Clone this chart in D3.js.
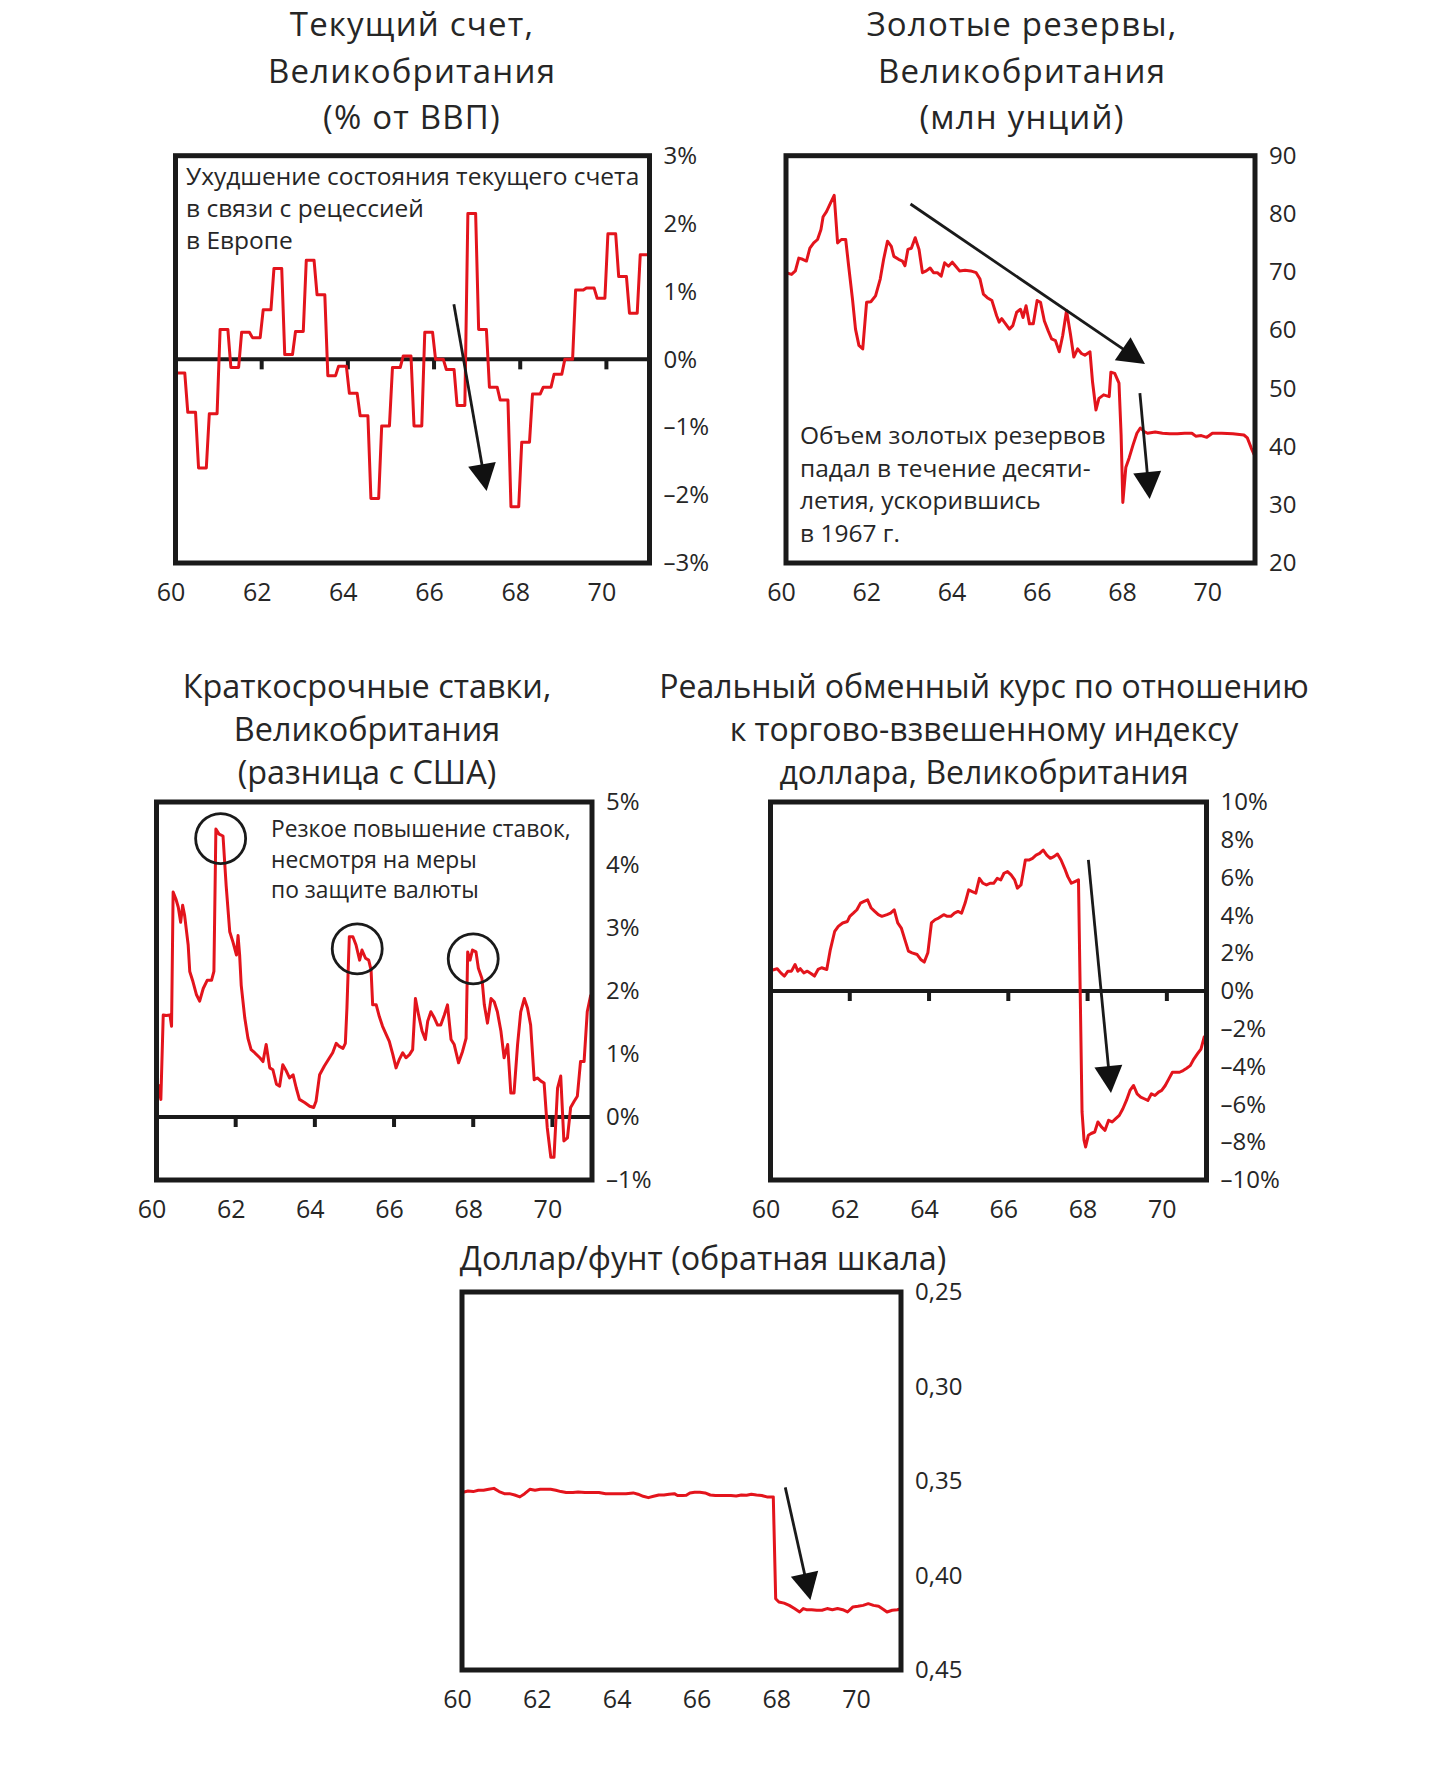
<!DOCTYPE html>
<html><head><meta charset="utf-8">
<script src="https://cdn.jsdelivr.net/npm/d3@7"></script>
<style>
body{margin:0;background:#fff}
svg{display:block}
text{font-family:"Open Sans",sans-serif;fill:#262626}
</style>
</head><body>
<svg id="c" width="1456" height="1767"></svg>
<script>
// ---------- DATA ----------
const xYears = [60, 62, 64, 66, 68, 70];
const zeroTickYears = [62, 64, 66, 68, 70];

// Current account, % of GDP, quarterly from 1960Q1
const currentAccountQ = [
  -0.2, -0.78, -1.6, -0.8,
  0.44, -0.12, 0.4, 0.32,
  0.73, 1.34, 0.07, 0.41,
  1.46, 0.95, -0.24, -0.1,
  -0.5, -0.83, -2.05, -0.98,
  -0.12, 0.05, -0.98, 0.4,
  0.0, -0.15, -0.68, 2.15,
  0.44, -0.41, -0.6, -2.17,
  -1.22, -0.51, -0.41, -0.22,
  0.0, 1.02, 1.05, 0.9,
  1.85, 1.22, 0.68, 1.54
];
const caTicks = [3, 2, 1, 0, -1, -2, -3];

// Gold reserves, mn oz: [year, value]
const goldSeries = [
  [60.00,69.9],[60.13,69.6],[60.22,70.2],[60.30,72.4],[60.39,72.2],[60.48,71.9],[60.56,74.1],[60.65,75.0],
  [60.74,75.6],[60.82,77.3],[60.87,79.5],[60.95,80.4],[61.04,81.8],[61.13,83.2],[61.21,75.0],[61.30,75.6],
  [61.40,75.6],[61.47,71.0],[61.56,65.3],[61.63,60.2],[61.71,57.4],[61.80,56.8],[61.89,64.8],[61.99,64.9],
  [62.10,65.9],[62.21,68.8],[62.29,72.2],[62.38,75.3],[62.47,74.4],[62.53,72.7],[62.64,72.2],[62.73,71.9],
  [62.79,71.1],[62.86,73.9],[62.94,74.1],[63.03,75.9],[63.12,73.9],[63.20,69.9],[63.29,70.2],[63.38,70.7],
  [63.46,69.9],[63.55,69.9],[63.64,69.3],[63.72,71.6],[63.81,71.0],[63.90,71.7],[63.98,71.0],[64.07,70.2],
  [64.20,70.3],[64.33,70.2],[64.46,69.9],[64.55,68.8],[64.63,66.2],[64.72,65.6],[64.83,65.1],[64.94,62.5],
  [65.00,61.4],[65.06,62.0],[65.15,61.1],[65.24,60.2],[65.32,60.8],[65.41,63.1],[65.50,63.6],[65.56,62.2],
  [65.63,64.2],[65.71,61.1],[65.80,61.1],[65.89,65.1],[65.97,64.8],[66.06,61.6],[66.15,59.9],[66.23,58.5],
  [66.32,58.2],[66.41,56.3],[66.49,59.1],[66.58,63.4],[66.67,59.4],[66.75,55.4],[66.84,56.8],[66.93,56.0],
  [67.01,55.7],[67.13,56.3],[67.19,51.1],[67.27,46.3],[67.34,48.3],[67.45,48.9],[67.58,48.6],[67.62,52.8],
  [67.71,52.6],[67.81,50.9],[67.86,42.0],[67.90,30.4],[67.97,36.4],[68.05,38.1],[68.14,40.3],[68.23,42.3],
  [68.31,43.2],[68.40,42.6],[68.48,42.3],[68.66,42.5],[68.83,42.3],[69.00,42.2],[69.18,42.2],[69.35,42.3],
  [69.52,42.3],[69.61,41.8],[69.74,41.9],[69.87,41.6],[70.00,42.3],[70.22,42.3],[70.48,42.2],[70.74,42.0],
  [70.82,41.5],[70.91,39.8],[70.98,38.6]
];
const goldTicks = [90, 80, 70, 60, 50, 40, 30, 20];

// Short-term rate differential vs US, %: [year, value]
const rateSeries = [
  [60.04,0.52],[60.11,0.28],[60.17,1.62],[60.25,1.61],[60.34,1.62],[60.38,1.44],[60.42,3.57],[60.49,3.46],
  [60.55,3.33],[60.61,3.09],[60.66,3.36],[60.71,3.20],[60.80,2.73],[60.84,2.31],[60.92,2.15],[61.01,1.94],
  [61.09,1.84],[61.18,2.04],[61.28,2.17],[61.39,2.17],[61.45,2.31],[61.50,4.57],[61.58,4.49],[61.68,4.46],
  [61.76,3.67],[61.85,2.94],[61.93,2.78],[62.02,2.57],[62.06,2.88],[62.10,2.57],[62.14,2.09],[62.23,1.57],
  [62.31,1.25],[62.39,1.07],[62.48,1.02],[62.61,0.94],[62.69,0.88],[62.77,1.15],[62.86,0.78],[62.94,0.75],
  [63.03,0.52],[63.11,0.49],[63.19,0.83],[63.28,0.73],[63.36,0.62],[63.45,0.67],[63.53,0.46],[63.61,0.28],
  [63.74,0.23],[63.87,0.17],[63.97,0.15],[64.03,0.25],[64.12,0.67],[64.24,0.81],[64.37,0.94],[64.45,1.02],
  [64.54,1.17],[64.62,1.12],[64.71,1.09],[64.77,1.17],[64.81,1.73],[64.87,2.86],[64.96,2.86],[65.04,2.73],
  [65.13,2.49],[65.19,2.65],[65.28,2.52],[65.36,2.49],[65.42,2.33],[65.46,1.78],[65.55,1.78],[65.63,1.59],
  [65.71,1.44],[65.80,1.31],[65.88,1.20],[65.97,0.99],[66.05,0.78],[66.13,0.91],[66.22,1.02],[66.30,0.94],
  [66.39,0.99],[66.47,1.07],[66.54,1.88],[66.62,1.62],[66.71,1.36],[66.79,1.23],[66.85,1.52],[66.93,1.67],
  [67.02,1.57],[67.10,1.46],[67.18,1.46],[67.27,1.62],[67.35,1.78],[67.44,1.23],[67.52,1.15],[67.63,0.86],
  [67.73,1.04],[67.82,1.25],[67.86,2.62],[67.92,2.49],[67.98,2.65],[68.07,2.62],[68.13,2.36],[68.22,2.20],
  [68.28,1.78],[68.36,1.49],[68.45,1.88],[68.53,1.83],[68.61,1.67],[68.70,1.36],[68.78,0.94],[68.87,1.15],
  [68.95,0.38],[69.03,0.38],[69.12,1.15],[69.20,1.67],[69.29,1.88],[69.37,1.73],[69.45,1.46],[69.54,0.59],
  [69.62,0.62],[69.71,0.57],[69.79,0.54],[69.87,-0.17],[69.96,-0.64],[70.04,-0.64],[70.13,0.46],[70.21,0.65],
  [70.29,-0.38],[70.38,-0.33],[70.46,0.15],[70.55,0.25],[70.63,0.33],[70.71,0.88],[70.80,0.88],[70.88,1.67],
  [70.97,1.94]
];
const rateTicks = [5, 4, 3, 2, 1, 0, -1];
const rateCircles = [[61.62, 4.42], [65.07, 2.67], [68.0, 2.51]];

// Real exchange rate vs trade-weighted dollar index, %: [year, value]
const reerSeries = [
  [60.03,1.1],[60.17,1.18],[60.26,0.96],[60.35,0.79],[60.44,1.05],[60.53,1.05],[60.62,1.4],[60.69,1.05],
  [60.75,1.18],[60.84,0.96],[60.93,1.05],[61.02,0.93],[61.11,0.79],[61.20,1.14],[61.29,1.23],[61.42,1.14],
  [61.51,2.19],[61.62,3.16],[61.71,3.42],[61.82,3.6],[61.94,3.68],[62.00,3.95],[62.09,4.12],[62.18,4.3],
  [62.27,4.65],[62.36,4.74],[62.45,4.82],[62.54,4.39],[62.63,4.21],[62.72,4.04],[62.81,3.95],[62.94,4.04],
  [63.03,4.12],[63.12,4.3],[63.21,3.6],[63.30,3.33],[63.39,2.72],[63.48,2.11],[63.57,2.02],[63.70,1.93],
  [63.79,1.67],[63.88,1.53],[63.97,2.02],[64.06,3.6],[64.15,3.77],[64.24,3.86],[64.37,4.04],[64.46,3.95],
  [64.55,3.95],[64.64,4.12],[64.73,4.21],[64.82,4.12],[64.91,4.65],[65.00,5.35],[65.09,5.26],[65.18,5.18],
  [65.27,5.96],[65.36,5.7],[65.45,5.61],[65.54,5.7],[65.63,5.7],[65.72,5.96],[65.81,5.88],[65.89,6.23],
  [65.98,6.32],[66.07,6.14],[66.16,5.88],[66.23,5.44],[66.32,5.61],[66.43,6.93],[66.52,6.93],[66.61,7.02],
  [66.70,7.19],[66.79,7.28],[66.88,7.46],[66.97,7.19],[67.06,7.02],[67.15,7.11],[67.24,7.25],[67.33,6.93],
  [67.42,6.49],[67.50,6.05],[67.59,5.7],[67.68,5.79],[67.77,5.88],[67.86,-6.4],[67.91,-7.89],[67.95,-8.25],
  [68.02,-7.63],[68.09,-7.54],[68.18,-7.46],[68.26,-6.93],[68.35,-7.19],[68.44,-7.37],[68.53,-6.84],[68.62,-6.93],
  [68.71,-6.75],[68.80,-6.58],[68.89,-6.23],[68.98,-5.79],[69.07,-5.26],[69.16,-5.0],[69.25,-5.44],[69.34,-5.61],
  [69.43,-5.7],[69.52,-5.79],[69.61,-5.44],[69.70,-5.53],[69.79,-5.35],[69.87,-5.26],[69.96,-5.0],[70.05,-4.65],
  [70.14,-4.3],[70.23,-4.3],[70.32,-4.3],[70.41,-4.21],[70.50,-4.09],[70.59,-3.95],[70.68,-3.6],[70.77,-3.33],
  [70.86,-3.07],[70.95,-2.37]
];
const reerTicks = [10, 8, 6, 4, 2, 0, -2, -4, -6, -8, -10];

// Dollar/pound (pounds per dollar), inverted scale: [year, value]
const fxSeries = [
  [60.00,0.3561],[60.15,0.3553],[60.28,0.3556],[60.41,0.3549],[60.54,0.3549],[60.67,0.3544],[60.80,0.3539],[60.93,0.3556],
  [61.06,0.3567],[61.19,0.3567],[61.32,0.3574],[61.45,0.3584],[61.57,0.3567],[61.70,0.3544],[61.83,0.3549],[61.96,0.3544],
  [62.09,0.3544],[62.22,0.3544],[62.35,0.3549],[62.48,0.3556],[62.61,0.3561],[62.78,0.3561],[62.91,0.3558],[63.08,0.3561],
  [63.25,0.3561],[63.43,0.3561],[63.60,0.3567],[63.77,0.3567],[63.94,0.3567],[64.11,0.3567],[64.29,0.3563],[64.41,0.3570],
  [64.54,0.3581],[64.67,0.3588],[64.80,0.3581],[64.93,0.3574],[65.06,0.3574],[65.19,0.3570],[65.32,0.3567],[65.40,0.3577],
  [65.53,0.3577],[65.62,0.3575],[65.71,0.3563],[65.83,0.3560],[65.96,0.3560],[66.09,0.3563],[66.22,0.3574],[66.35,0.3577],
  [66.48,0.3577],[66.61,0.3577],[66.74,0.3577],[66.87,0.3579],[67.00,0.3574],[67.13,0.3575],[67.25,0.3570],[67.38,0.3574],
  [67.51,0.3577],[67.64,0.3584],[67.80,0.3584],[67.86,0.4123],[67.94,0.4140],[68.07,0.4146],[68.20,0.4158],[68.33,0.4175],
  [68.46,0.4193],[68.55,0.4175],[68.63,0.4181],[68.76,0.4181],[68.89,0.4184],[69.02,0.4184],[69.15,0.4175],[69.28,0.4181],
  [69.41,0.4175],[69.54,0.4181],[69.66,0.4193],[69.79,0.4167],[69.92,0.4163],[70.05,0.4158],[70.18,0.4149],[70.31,0.4158],
  [70.44,0.4163],[70.57,0.4181],[70.65,0.4193],[70.78,0.4184],[70.91,0.4181],[71.00,0.4175]
];
const fxTicks = [0.25, 0.30, 0.35, 0.40, 0.45];

// ---------- DRAWING ----------
const RED = "#e3141c";
const INK = "#1a1a1a";
const svg = d3.select("#c");
const pctFmt = d => (d < 0 ? "–" + Math.abs(d) : d) + "%";

function panel(cfg) {
  const g = svg.append("g");
  const x = d3.scaleLinear().domain([60, 71]).range([cfg.x0, cfg.x1]);
  const y = d3.scaleLinear().domain(cfg.yDomain).range([cfg.y1, cfg.y0]);
  const id = "clip" + cfg.id;
  svg.append("clipPath").attr("id", id).append("rect")
    .attr("x", cfg.x0).attr("y", cfg.y0).attr("width", cfg.x1 - cfg.x0).attr("height", cfg.y1 - cfg.y0);

  // title
  g.append("text").attr("text-anchor", "middle").style("font-size", cfg.titleSize + "px")
    .style("letter-spacing", (cfg.titleSpacing || 0) + "px")
    .selectAll("tspan").data(cfg.title).join("tspan")
    .attr("x", cfg.titleX).attr("y", (d, i) => cfg.titleY + i * cfg.titleLead).text(d => d);

  // zero line + ticks
  if (cfg.zero) {
    g.append("line").attr("x1", cfg.x0).attr("x2", cfg.x1).attr("y1", y(0)).attr("y2", y(0))
      .attr("stroke", INK).attr("stroke-width", 4);
    g.selectAll(".zt").data(zeroTickYears).join("line")
      .attr("x1", d => x(d)).attr("x2", d => x(d)).attr("y1", y(0)).attr("y2", y(0) + 10)
      .attr("stroke", INK).attr("stroke-width", 4);
  }

  // series
  g.append("path").datum(cfg.data).attr("clip-path", `url(#${id})`)
    .attr("fill", "none").attr("stroke", RED).attr("stroke-width", 3).attr("stroke-linejoin", "round")
    .attr("d", d3.line().x(d => x(d[0])).y(d => y(d[1])));

  // frame
  g.append("rect").attr("x", cfg.x0).attr("y", cfg.y0).attr("width", cfg.x1 - cfg.x0).attr("height", cfg.y1 - cfg.y0)
    .attr("fill", "none").attr("stroke", INK).attr("stroke-width", 5);

  // axes
  const ya = g.append("g").attr("transform", `translate(${cfg.x1},0)`)
    .call(d3.axisRight(y).tickValues(cfg.yTicks).tickFormat(cfg.yFmt).tickSize(0).tickPadding(14));
  ya.select(".domain").remove();
  ya.selectAll("text").style("font-size", "24px").style("font-family", '"Open Sans",sans-serif').attr("fill", "#262626");

  const xa = g.append("g").attr("transform", `translate(0,${cfg.y1})`)
    .call(d3.axisBottom(x).tickValues(xYears).tickFormat(d => d).tickSize(0).tickPadding(20));
  xa.select(".domain").remove();
  xa.selectAll("text").style("font-size", "25px").style("font-family", '"Open Sans",sans-serif').attr("fill", "#262626").attr("dx", -5);

  // annotation text
  if (cfg.note) {
    g.append("text").style("font-size", cfg.noteSize + "px")
      .selectAll("tspan").data(cfg.note.lines).join("tspan")
      .attr("x", cfg.note.x).attr("y", (d, i) => cfg.note.y + i * cfg.note.lead).text(d => d);
  }

  // arrows
  (cfg.arrows || []).forEach(a => {
    const sx = x(a[0][0]), sy = y(a[0][1]), tx = x(a[1][0]), ty = y(a[1][1]);
    const dx = tx - sx, dy = ty - sy, len = Math.hypot(dx, dy), ux = dx / len, uy = dy / len;
    const L = 27, W = 28;
    const bx = tx - ux * L, by = ty - uy * L;
    g.append("line").attr("x1", sx).attr("y1", sy).attr("x2", bx + ux * 2).attr("y2", by + uy * 2)
      .attr("stroke", INK).attr("stroke-width", 2.8);
    g.append("path").attr("fill", "#111")
      .attr("d", `M${tx},${ty}L${bx - uy * W / 2},${by + ux * W / 2}L${bx + uy * W / 2},${by - ux * W / 2}Z`);
  });

  // circles
  (cfg.circles || []).forEach(c => {
    g.append("circle").attr("cx", x(c[0])).attr("cy", y(c[1])).attr("r", 25)
      .attr("fill", "none").attr("stroke", INK).attr("stroke-width", 2.8);
  });
}

// current account: slanted quarterly steps
const caPoints = [];
currentAccountQ.forEach((v, i) => {
  const t0 = 60 + i / 4, t1 = t0 + 0.25;
  caPoints.push([i === 0 ? t0 : t0 + 0.035, v], [i === currentAccountQ.length - 1 ? t1 : t1 - 0.035, v]);
});

panel({
  id: 1, x0: 175.5, x1: 649.5, y0: 155.7, y1: 563,
  yDomain: [-3, 3], yTicks: caTicks, yFmt: pctFmt, zero: true, data: caPoints,
  title: ["Текущий счет,", "Великобритания", "(% от ВВП)"], titleX: 412, titleY: 36, titleLead: 46.5, titleSize: 33, titleSpacing: 1.2,
  note: { x: 186, y: 185, lead: 32, lines: ["Ухудшение состояния текущего счета", "в связи с рецессией", "в Европе"] }, noteSize: 24.5,
  arrows: [[[66.46, 0.81], [67.22, -1.94]]]
});

panel({
  id: 2, x0: 786, x1: 1255, y0: 155.7, y1: 563,
  yDomain: [20, 90], yTicks: goldTicks, yFmt: d => d, zero: false, data: goldSeries,
  title: ["Золотые резервы,", "Великобритания", "(млн унций)"], titleX: 1022, titleY: 36, titleLead: 46.5, titleSize: 33, titleSpacing: 1.2,
  note: { x: 800, y: 444, lead: 32.5, lines: ["Объем золотых резервов", "падал в течение десяти-", "летия, ускорившись", "в 1967 г."] }, noteSize: 24.5,
  arrows: [[[62.92, 81.7], [68.42, 54.2]], [[68.3, 49.2], [68.53, 31.0]]]
});

panel({
  id: 3, x0: 156.5, x1: 592, y0: 802, y1: 1180,
  yDomain: [-1, 5], yTicks: rateTicks, yFmt: pctFmt, zero: true, data: rateSeries,
  title: ["Краткосрочные ставки,", "Великобритания", "(разница с США)"], titleX: 367, titleY: 698, titleLead: 43, titleSize: 32.4,
  note: { x: 271, y: 837, lead: 30.5, lines: ["Резкое повышение ставок,", "несмотря на меры", "по защите валюты"] }, noteSize: 22.8,
  circles: rateCircles
});

panel({
  id: 4, x0: 770.5, x1: 1206.5, y0: 802, y1: 1180,
  yDomain: [-10, 10], yTicks: reerTicks, yFmt: pctFmt, zero: true, data: reerSeries,
  title: ["Реальный обменный курс по отношению", "к торгово-взвешенному индексу", "доллара, Великобритания"], titleX: 984, titleY: 698, titleLead: 43, titleSize: 32,
  arrows: [[[68.02, 6.94], [68.59, -5.4]]]
});

panel({
  id: 5, x0: 462, x1: 901, y0: 1292, y1: 1670,
  yDomain: [0.45, 0.25], yTicks: fxTicks, yFmt: d => d3.format(".2f")(d).replace(".", ","), zero: false, data: fxSeries,
  title: ["Доллар/фунт (обратная шкала)"], titleX: 703, titleY: 1270, titleLead: 43, titleSize: 32.3,
  arrows: [[[68.1, 0.3534], [68.73, 0.413]]]
});
</script>
</body></html>
